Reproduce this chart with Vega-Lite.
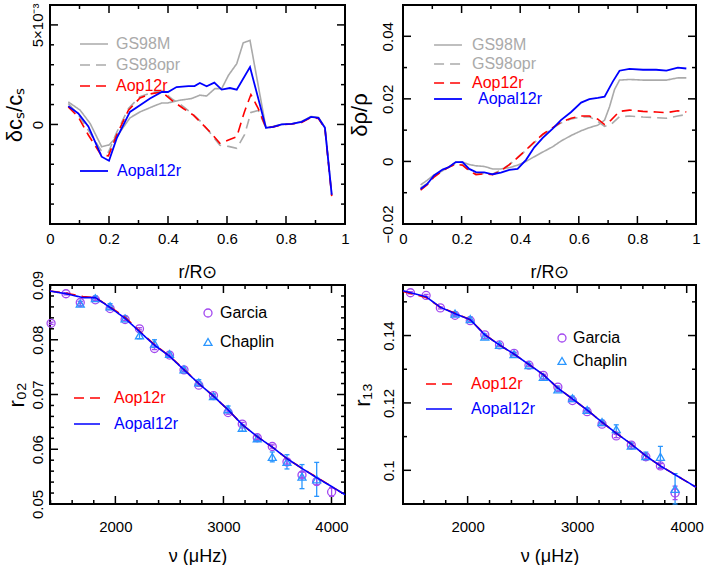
{
  "$schema": "https://vega.github.io/schema/vega-lite/v6.json",
  "padding": {"left": 2, "top": 2, "right": 2, "bottom": 2},
  "config": {
    "font": "Liberation Sans",
    "view": {"stroke": "#000000", "strokeWidth": 2},
    "axis": {"domain": false, "grid": false, "ticks": false, "tickSize": 0, "labelColor": "#000000", "labelFontSize": 15, "labelFlush": false, "labelOverlap": false, "titleColor": "#000000", "titleFontSize": 18, "titleFontWeight": "normal"},
    "tick": {"opacity": 1, "color": "#000000", "thickness": 1.5},
    "legend": {"padding": 0, "labelFontSize": 16}
  },
  "datasets": {
    "t1": [
      {"ax": "x", "k": "maj", "v": 0.2}, {"ax": "x", "k": "maj", "v": 0.4}, {"ax": "x", "k": "maj", "v": 0.6}, {"ax": "x", "k": "maj", "v": 0.8},
      {"ax": "x", "k": "min", "v": 0.1}, {"ax": "x", "k": "min", "v": 0.3}, {"ax": "x", "k": "min", "v": 0.5}, {"ax": "x", "k": "min", "v": 0.7}, {"ax": "x", "k": "min", "v": 0.9},
      {"ax": "y", "k": "maj", "v": 0}, {"ax": "y", "k": "maj", "v": 0.005},
      {"ax": "y", "k": "min", "v": -0.004}, {"ax": "y", "k": "min", "v": -0.003}, {"ax": "y", "k": "min", "v": -0.002}, {"ax": "y", "k": "min", "v": -0.001}, {"ax": "y", "k": "min", "v": 0.001}, {"ax": "y", "k": "min", "v": 0.002}, {"ax": "y", "k": "min", "v": 0.003}, {"ax": "y", "k": "min", "v": 0.004}
    ],
    "t2": [
      {"ax": "x", "k": "maj", "v": 0.2}, {"ax": "x", "k": "maj", "v": 0.4}, {"ax": "x", "k": "maj", "v": 0.6}, {"ax": "x", "k": "maj", "v": 0.8},
      {"ax": "x", "k": "min", "v": 0.1}, {"ax": "x", "k": "min", "v": 0.3}, {"ax": "x", "k": "min", "v": 0.5}, {"ax": "x", "k": "min", "v": 0.7}, {"ax": "x", "k": "min", "v": 0.9},
      {"ax": "y", "k": "maj", "v": 0}, {"ax": "y", "k": "maj", "v": 0.02}, {"ax": "y", "k": "maj", "v": 0.04},
      {"ax": "y", "k": "min", "v": -0.01}, {"ax": "y", "k": "min", "v": 0.01}, {"ax": "y", "k": "min", "v": 0.03}
    ],
    "t3": [
      {"ax": "x", "k": "maj", "v": 2000}, {"ax": "x", "k": "maj", "v": 3000}, {"ax": "x", "k": "maj", "v": 4000},
      {"ax": "x", "k": "min", "v": 1400}, {"ax": "x", "k": "min", "v": 1600}, {"ax": "x", "k": "min", "v": 1800}, {"ax": "x", "k": "min", "v": 2200}, {"ax": "x", "k": "min", "v": 2400}, {"ax": "x", "k": "min", "v": 2600}, {"ax": "x", "k": "min", "v": 2800}, {"ax": "x", "k": "min", "v": 3200}, {"ax": "x", "k": "min", "v": 3400}, {"ax": "x", "k": "min", "v": 3600}, {"ax": "x", "k": "min", "v": 3800},
      {"ax": "y", "k": "maj", "v": 0.06}, {"ax": "y", "k": "maj", "v": 0.07}, {"ax": "y", "k": "maj", "v": 0.08},
      {"ax": "y", "k": "min", "v": 0.052}, {"ax": "y", "k": "min", "v": 0.054}, {"ax": "y", "k": "min", "v": 0.056}, {"ax": "y", "k": "min", "v": 0.058}, {"ax": "y", "k": "min", "v": 0.062}, {"ax": "y", "k": "min", "v": 0.064}, {"ax": "y", "k": "min", "v": 0.066}, {"ax": "y", "k": "min", "v": 0.068}, {"ax": "y", "k": "min", "v": 0.072}, {"ax": "y", "k": "min", "v": 0.074}, {"ax": "y", "k": "min", "v": 0.076}, {"ax": "y", "k": "min", "v": 0.078}, {"ax": "y", "k": "min", "v": 0.082}, {"ax": "y", "k": "min", "v": 0.084}, {"ax": "y", "k": "min", "v": 0.086}, {"ax": "y", "k": "min", "v": 0.088}
    ],
    "t4": [
      {"ax": "x", "k": "maj", "v": 2000}, {"ax": "x", "k": "maj", "v": 3000}, {"ax": "x", "k": "maj", "v": 4000},
      {"ax": "x", "k": "min", "v": 1600}, {"ax": "x", "k": "min", "v": 1800}, {"ax": "x", "k": "min", "v": 2200}, {"ax": "x", "k": "min", "v": 2400}, {"ax": "x", "k": "min", "v": 2600}, {"ax": "x", "k": "min", "v": 2800}, {"ax": "x", "k": "min", "v": 3200}, {"ax": "x", "k": "min", "v": 3400}, {"ax": "x", "k": "min", "v": 3600}, {"ax": "x", "k": "min", "v": 3800},
      {"ax": "y", "k": "maj", "v": 0.1}, {"ax": "y", "k": "maj", "v": 0.12}, {"ax": "y", "k": "maj", "v": 0.14},
      {"ax": "y", "k": "min", "v": 0.11}, {"ax": "y", "k": "min", "v": 0.13}, {"ax": "y", "k": "min", "v": 0.15}
    ],
    "p1": [
      {"s": "GS98M", "r": 0.062, "v": 0.00113}, {"s": "GS98M", "r": 0.102, "v": 0.00072}, {"s": "GS98M", "r": 0.136, "v": 0.00005}, {"s": "GS98M", "r": 0.175, "v": -0.00112}, {"s": "GS98M", "r": 0.2, "v": -0.00103}, {"s": "GS98M", "r": 0.226, "v": -0.00062}, {"s": "GS98M", "r": 0.271, "v": 0.00033}, {"s": "GS98M", "r": 0.305, "v": 0.00063}, {"s": "GS98M", "r": 0.345, "v": 0.00088}, {"s": "GS98M", "r": 0.379, "v": 0.00108}, {"s": "GS98M", "r": 0.4, "v": 0.00108}, {"s": "GS98M", "r": 0.441, "v": 0.00122}, {"s": "GS98M", "r": 0.48, "v": 0.0013}, {"s": "GS98M", "r": 0.508, "v": 0.00147}, {"s": "GS98M", "r": 0.531, "v": 0.00143}, {"s": "GS98M", "r": 0.559, "v": 0.0018}, {"s": "GS98M", "r": 0.582, "v": 0.0018}, {"s": "GS98M", "r": 0.605, "v": 0.00247}, {"s": "GS98M", "r": 0.633, "v": 0.00305}, {"s": "GS98M", "r": 0.655, "v": 0.0041}, {"s": "GS98M", "r": 0.678, "v": 0.00422}, {"s": "GS98M", "r": 0.732, "v": -0.00017}, {"s": "GS98M", "r": 0.757, "v": -0.0001}, {"s": "GS98M", "r": 0.785, "v": 0}, {"s": "GS98M", "r": 0.819, "v": 0.00003}, {"s": "GS98M", "r": 0.853, "v": 0.00015}, {"s": "GS98M", "r": 0.885, "v": 0.0004}, {"s": "GS98M", "r": 0.91, "v": 0.00035}, {"s": "GS98M", "r": 0.932, "v": -0.00015}, {"s": "GS98M", "r": 0.955, "v": -0.0035},
      {"s": "GS98opr", "r": 0.062, "v": 0.00105}, {"s": "GS98opr", "r": 0.096, "v": 0.0005}, {"s": "GS98opr", "r": 0.13, "v": -0.0003}, {"s": "GS98opr", "r": 0.173, "v": -0.0013}, {"s": "GS98opr", "r": 0.198, "v": -0.0014}, {"s": "GS98opr", "r": 0.226, "v": -0.0004}, {"s": "GS98opr", "r": 0.266, "v": 0.0008}, {"s": "GS98opr", "r": 0.305, "v": 0.0014}, {"s": "GS98opr", "r": 0.345, "v": 0.0016}, {"s": "GS98opr", "r": 0.379, "v": 0.0017}, {"s": "GS98opr", "r": 0.412, "v": 0.0013}, {"s": "GS98opr", "r": 0.452, "v": 0.0009}, {"s": "GS98opr", "r": 0.486, "v": 0.0005}, {"s": "GS98opr", "r": 0.514, "v": 0.0001}, {"s": "GS98opr", "r": 0.542, "v": -0.0004}, {"s": "GS98opr", "r": 0.576, "v": -0.00105}, {"s": "GS98opr", "r": 0.605, "v": -0.0011}, {"s": "GS98opr", "r": 0.633, "v": -0.0012}, {"s": "GS98opr", "r": 0.66, "v": -0.0005}, {"s": "GS98opr", "r": 0.681, "v": 0.0006}, {"s": "GS98opr", "r": 0.706, "v": 0.0007}, {"s": "GS98opr", "r": 0.732, "v": -0.00017}, {"s": "GS98opr", "r": 0.757, "v": -0.0001}, {"s": "GS98opr", "r": 0.785, "v": 0}, {"s": "GS98opr", "r": 0.819, "v": 0.00002}, {"s": "GS98opr", "r": 0.853, "v": 0.00012}, {"s": "GS98opr", "r": 0.885, "v": 0.00038}, {"s": "GS98opr", "r": 0.91, "v": 0.00032}, {"s": "GS98opr", "r": 0.932, "v": -0.00018}, {"s": "GS98opr", "r": 0.955, "v": -0.00355},
      {"s": "Aop12r", "r": 0.062, "v": 0.00088}, {"s": "Aop12r", "r": 0.096, "v": 0.00038}, {"s": "Aop12r", "r": 0.13, "v": -0.00053}, {"s": "Aop12r", "r": 0.173, "v": -0.00153}, {"s": "Aop12r", "r": 0.198, "v": -0.00158}, {"s": "Aop12r", "r": 0.226, "v": -0.00053}, {"s": "Aop12r", "r": 0.266, "v": 0.00072}, {"s": "Aop12r", "r": 0.305, "v": 0.00133}, {"s": "Aop12r", "r": 0.345, "v": 0.00155}, {"s": "Aop12r", "r": 0.379, "v": 0.00163}, {"s": "Aop12r", "r": 0.412, "v": 0.00122}, {"s": "Aop12r", "r": 0.452, "v": 0.0008}, {"s": "Aop12r", "r": 0.486, "v": 0.00047}, {"s": "Aop12r", "r": 0.514, "v": 0.00005}, {"s": "Aop12r", "r": 0.542, "v": -0.00037}, {"s": "Aop12r", "r": 0.576, "v": -0.00095}, {"s": "Aop12r", "r": 0.605, "v": -0.00078}, {"s": "Aop12r", "r": 0.633, "v": -0.00062}, {"s": "Aop12r", "r": 0.659, "v": 0.00063}, {"s": "Aop12r", "r": 0.681, "v": 0.0015}, {"s": "Aop12r", "r": 0.706, "v": 0.0008}, {"s": "Aop12r", "r": 0.732, "v": -0.00017}, {"s": "Aop12r", "r": 0.757, "v": -0.00012}, {"s": "Aop12r", "r": 0.785, "v": -0.00002}, {"s": "Aop12r", "r": 0.819, "v": 0.00002}, {"s": "Aop12r", "r": 0.853, "v": 0.0001}, {"s": "Aop12r", "r": 0.885, "v": 0.00035}, {"s": "Aop12r", "r": 0.91, "v": 0.0003}, {"s": "Aop12r", "r": 0.932, "v": -0.0002}, {"s": "Aop12r", "r": 0.955, "v": -0.0036},
      {"s": "Aopal12r", "r": 0.062, "v": 0.00092}, {"s": "Aopal12r", "r": 0.096, "v": 0.00055}, {"s": "Aopal12r", "r": 0.13, "v": -0.0001}, {"s": "Aopal12r", "r": 0.175, "v": -0.00162}, {"s": "Aopal12r", "r": 0.2, "v": -0.00182}, {"s": "Aopal12r", "r": 0.226, "v": -0.0007}, {"s": "Aopal12r", "r": 0.271, "v": 0.00063}, {"s": "Aopal12r", "r": 0.305, "v": 0.00097}, {"s": "Aopal12r", "r": 0.339, "v": 0.0013}, {"s": "Aopal12r", "r": 0.379, "v": 0.00163}, {"s": "Aopal12r", "r": 0.4, "v": 0.00163}, {"s": "Aopal12r", "r": 0.429, "v": 0.00188}, {"s": "Aopal12r", "r": 0.469, "v": 0.00193}, {"s": "Aopal12r", "r": 0.49, "v": 0.00193}, {"s": "Aopal12r", "r": 0.508, "v": 0.00208}, {"s": "Aopal12r", "r": 0.531, "v": 0.00192}, {"s": "Aopal12r", "r": 0.557, "v": 0.0021}, {"s": "Aopal12r", "r": 0.582, "v": 0.00175}, {"s": "Aopal12r", "r": 0.61, "v": 0.00183}, {"s": "Aopal12r", "r": 0.633, "v": 0.00175}, {"s": "Aopal12r", "r": 0.678, "v": 0.00288}, {"s": "Aopal12r", "r": 0.732, "v": -0.00017}, {"s": "Aopal12r", "r": 0.757, "v": -0.00012}, {"s": "Aopal12r", "r": 0.785, "v": 0}, {"s": "Aopal12r", "r": 0.819, "v": 0.00003}, {"s": "Aopal12r", "r": 0.853, "v": 0.00013}, {"s": "Aopal12r", "r": 0.885, "v": 0.00038}, {"s": "Aopal12r", "r": 0.91, "v": 0.00033}, {"s": "Aopal12r", "r": 0.932, "v": -0.00017}, {"s": "Aopal12r", "r": 0.955, "v": -0.00353}
    ],
    "p2": [
      {"s": "GS98M", "r": 0.06, "v": -0.0075}, {"s": "GS98M", "r": 0.083, "v": -0.006}, {"s": "GS98M", "r": 0.106, "v": -0.0043}, {"s": "GS98M", "r": 0.135, "v": -0.003}, {"s": "GS98M", "r": 0.157, "v": -0.0018}, {"s": "GS98M", "r": 0.18, "v": -0.0003}, {"s": "GS98M", "r": 0.203, "v": -0.0002}, {"s": "GS98M", "r": 0.226, "v": -0.001}, {"s": "GS98M", "r": 0.249, "v": -0.0014}, {"s": "GS98M", "r": 0.277, "v": -0.0016}, {"s": "GS98M", "r": 0.306, "v": -0.0024}, {"s": "GS98M", "r": 0.334, "v": -0.0024}, {"s": "GS98M", "r": 0.363, "v": -0.002}, {"s": "GS98M", "r": 0.391, "v": -0.0012}, {"s": "GS98M", "r": 0.42, "v": 0}, {"s": "GS98M", "r": 0.448, "v": 0.0015}, {"s": "GS98M", "r": 0.477, "v": 0.003}, {"s": "GS98M", "r": 0.511, "v": 0.0047}, {"s": "GS98M", "r": 0.539, "v": 0.0065}, {"s": "GS98M", "r": 0.574, "v": 0.0083}, {"s": "GS98M", "r": 0.608, "v": 0.0098}, {"s": "GS98M", "r": 0.636, "v": 0.0108}, {"s": "GS98M", "r": 0.665, "v": 0.0116}, {"s": "GS98M", "r": 0.688, "v": 0.0132}, {"s": "GS98M", "r": 0.705, "v": 0.0175}, {"s": "GS98M", "r": 0.722, "v": 0.023}, {"s": "GS98M", "r": 0.739, "v": 0.026}, {"s": "GS98M", "r": 0.773, "v": 0.0262}, {"s": "GS98M", "r": 0.819, "v": 0.026}, {"s": "GS98M", "r": 0.864, "v": 0.026}, {"s": "GS98M", "r": 0.899, "v": 0.026}, {"s": "GS98M", "r": 0.938, "v": 0.0267}, {"s": "GS98M", "r": 0.967, "v": 0.0267},
      {"s": "GS98opr", "r": 0.06, "v": -0.0085}, {"s": "GS98opr", "r": 0.083, "v": -0.007}, {"s": "GS98opr", "r": 0.106, "v": -0.0048}, {"s": "GS98opr", "r": 0.135, "v": -0.003}, {"s": "GS98opr", "r": 0.157, "v": -0.0018}, {"s": "GS98opr", "r": 0.18, "v": -0.0008}, {"s": "GS98opr", "r": 0.203, "v": -0.001}, {"s": "GS98opr", "r": 0.226, "v": -0.0028}, {"s": "GS98opr", "r": 0.249, "v": -0.004}, {"s": "GS98opr", "r": 0.277, "v": -0.0038}, {"s": "GS98opr", "r": 0.306, "v": -0.004}, {"s": "GS98opr", "r": 0.334, "v": -0.0028}, {"s": "GS98opr", "r": 0.363, "v": -0.001}, {"s": "GS98opr", "r": 0.391, "v": 0.0012}, {"s": "GS98opr", "r": 0.42, "v": 0.0036}, {"s": "GS98opr", "r": 0.448, "v": 0.006}, {"s": "GS98opr", "r": 0.477, "v": 0.0085}, {"s": "GS98opr", "r": 0.511, "v": 0.0106}, {"s": "GS98opr", "r": 0.539, "v": 0.0123}, {"s": "GS98opr", "r": 0.574, "v": 0.0136}, {"s": "GS98opr", "r": 0.608, "v": 0.0142}, {"s": "GS98opr", "r": 0.636, "v": 0.0143}, {"s": "GS98opr", "r": 0.665, "v": 0.0128}, {"s": "GS98opr", "r": 0.688, "v": 0.0112}, {"s": "GS98opr", "r": 0.71, "v": 0.0118}, {"s": "GS98opr", "r": 0.739, "v": 0.0143}, {"s": "GS98opr", "r": 0.773, "v": 0.0145}, {"s": "GS98opr", "r": 0.819, "v": 0.0142}, {"s": "GS98opr", "r": 0.864, "v": 0.014}, {"s": "GS98opr", "r": 0.899, "v": 0.0138}, {"s": "GS98opr", "r": 0.938, "v": 0.0145}, {"s": "GS98opr", "r": 0.967, "v": 0.015},
      {"s": "Aop12r", "r": 0.06, "v": -0.0092}, {"s": "Aop12r", "r": 0.083, "v": -0.0074}, {"s": "Aop12r", "r": 0.106, "v": -0.005}, {"s": "Aop12r", "r": 0.135, "v": -0.003}, {"s": "Aop12r", "r": 0.157, "v": -0.0018}, {"s": "Aop12r", "r": 0.18, "v": -0.0009}, {"s": "Aop12r", "r": 0.203, "v": -0.0012}, {"s": "Aop12r", "r": 0.226, "v": -0.003}, {"s": "Aop12r", "r": 0.249, "v": -0.0042}, {"s": "Aop12r", "r": 0.277, "v": -0.004}, {"s": "Aop12r", "r": 0.306, "v": -0.0042}, {"s": "Aop12r", "r": 0.334, "v": -0.003}, {"s": "Aop12r", "r": 0.363, "v": -0.001}, {"s": "Aop12r", "r": 0.391, "v": 0.0012}, {"s": "Aop12r", "r": 0.42, "v": 0.0037}, {"s": "Aop12r", "r": 0.448, "v": 0.0062}, {"s": "Aop12r", "r": 0.477, "v": 0.0087}, {"s": "Aop12r", "r": 0.511, "v": 0.0108}, {"s": "Aop12r", "r": 0.539, "v": 0.0125}, {"s": "Aop12r", "r": 0.574, "v": 0.0138}, {"s": "Aop12r", "r": 0.608, "v": 0.0145}, {"s": "Aop12r", "r": 0.636, "v": 0.0145}, {"s": "Aop12r", "r": 0.665, "v": 0.0135}, {"s": "Aop12r", "r": 0.688, "v": 0.0118}, {"s": "Aop12r", "r": 0.71, "v": 0.0132}, {"s": "Aop12r", "r": 0.739, "v": 0.016}, {"s": "Aop12r", "r": 0.773, "v": 0.0164}, {"s": "Aop12r", "r": 0.819, "v": 0.016}, {"s": "Aop12r", "r": 0.864, "v": 0.0158}, {"s": "Aop12r", "r": 0.899, "v": 0.0156}, {"s": "Aop12r", "r": 0.938, "v": 0.0162}, {"s": "Aop12r", "r": 0.967, "v": 0.0158},
      {"s": "Aopal12r", "r": 0.06, "v": -0.0088}, {"s": "Aopal12r", "r": 0.083, "v": -0.0072}, {"s": "Aopal12r", "r": 0.106, "v": -0.0045}, {"s": "Aopal12r", "r": 0.135, "v": -0.0026}, {"s": "Aopal12r", "r": 0.157, "v": -0.0018}, {"s": "Aopal12r", "r": 0.18, "v": -0.0002}, {"s": "Aopal12r", "r": 0.203, "v": -0.0002}, {"s": "Aopal12r", "r": 0.226, "v": -0.0024}, {"s": "Aopal12r", "r": 0.249, "v": -0.0034}, {"s": "Aopal12r", "r": 0.277, "v": -0.0035}, {"s": "Aopal12r", "r": 0.306, "v": -0.0041}, {"s": "Aopal12r", "r": 0.334, "v": -0.0036}, {"s": "Aopal12r", "r": 0.363, "v": -0.0027}, {"s": "Aopal12r", "r": 0.391, "v": -0.0024}, {"s": "Aopal12r", "r": 0.42, "v": 0.0005}, {"s": "Aopal12r", "r": 0.448, "v": 0.0045}, {"s": "Aopal12r", "r": 0.477, "v": 0.0075}, {"s": "Aopal12r", "r": 0.511, "v": 0.0105}, {"s": "Aopal12r", "r": 0.539, "v": 0.0132}, {"s": "Aopal12r", "r": 0.574, "v": 0.0158}, {"s": "Aopal12r", "r": 0.608, "v": 0.0188}, {"s": "Aopal12r", "r": 0.636, "v": 0.0199}, {"s": "Aopal12r", "r": 0.665, "v": 0.0203}, {"s": "Aopal12r", "r": 0.688, "v": 0.0207}, {"s": "Aopal12r", "r": 0.716, "v": 0.0255}, {"s": "Aopal12r", "r": 0.739, "v": 0.029}, {"s": "Aopal12r", "r": 0.773, "v": 0.0296}, {"s": "Aopal12r", "r": 0.819, "v": 0.0293}, {"s": "Aopal12r", "r": 0.864, "v": 0.0293}, {"s": "Aopal12r", "r": 0.899, "v": 0.029}, {"s": "Aopal12r", "r": 0.938, "v": 0.03}, {"s": "Aopal12r", "r": 0.967, "v": 0.0297}
    ],
    "r02obs": [
      {"src": "Garcia", "nu": 1405, "v": 0.083, "e": 0.0002}, {"src": "Garcia", "nu": 1543, "v": 0.0884, "e": 0.0002}, {"src": "Garcia", "nu": 1675, "v": 0.0868, "e": 0.0002}, {"src": "Garcia", "nu": 1815, "v": 0.0873, "e": 0.0002}, {"src": "Garcia", "nu": 1951, "v": 0.0857, "e": 0.0002}, {"src": "Garcia", "nu": 2090, "v": 0.0837, "e": 0.0002}, {"src": "Garcia", "nu": 2223, "v": 0.082, "e": 0.0002}, {"src": "Garcia", "nu": 2362, "v": 0.0784, "e": 0.0002}, {"src": "Garcia", "nu": 2501, "v": 0.0772, "e": 0.0002}, {"src": "Garcia", "nu": 2635, "v": 0.0745, "e": 0.0002}, {"src": "Garcia", "nu": 2772, "v": 0.0717, "e": 0.0002}, {"src": "Garcia", "nu": 2908, "v": 0.0698, "e": 0.0002}, {"src": "Garcia", "nu": 3043, "v": 0.0667, "e": 0.0003}, {"src": "Garcia", "nu": 3174, "v": 0.0646, "e": 0.0003}, {"src": "Garcia", "nu": 3313, "v": 0.0621, "e": 0.0003}, {"src": "Garcia", "nu": 3452, "v": 0.0605, "e": 0.0003}, {"src": "Garcia", "nu": 3588, "v": 0.0577, "e": 0.0004}, {"src": "Garcia", "nu": 3727, "v": 0.0553, "e": 0.0005}, {"src": "Garcia", "nu": 3863, "v": 0.0541, "e": 0.0006}, {"src": "Garcia", "nu": 4001, "v": 0.0522, "e": 0.0008},
      {"src": "Chaplin", "nu": 1675, "v": 0.0866, "e": 0.0004}, {"src": "Chaplin", "nu": 1815, "v": 0.0876, "e": 0.0004}, {"src": "Chaplin", "nu": 1951, "v": 0.0861, "e": 0.0005}, {"src": "Chaplin", "nu": 2090, "v": 0.0839, "e": 0.0004}, {"src": "Chaplin", "nu": 2223, "v": 0.0808, "e": 0.0006}, {"src": "Chaplin", "nu": 2362, "v": 0.0793, "e": 0.0007}, {"src": "Chaplin", "nu": 2501, "v": 0.0774, "e": 0.0004}, {"src": "Chaplin", "nu": 2635, "v": 0.0746, "e": 0.0004}, {"src": "Chaplin", "nu": 2772, "v": 0.0722, "e": 0.0005}, {"src": "Chaplin", "nu": 2908, "v": 0.0697, "e": 0.0004}, {"src": "Chaplin", "nu": 3043, "v": 0.0673, "e": 0.0006}, {"src": "Chaplin", "nu": 3174, "v": 0.0639, "e": 0.0006}, {"src": "Chaplin", "nu": 3313, "v": 0.062, "e": 0.0004}, {"src": "Chaplin", "nu": 3452, "v": 0.0586, "e": 0.0009}, {"src": "Chaplin", "nu": 3588, "v": 0.0577, "e": 0.0013}, {"src": "Chaplin", "nu": 3727, "v": 0.055, "e": 0.0022}, {"src": "Chaplin", "nu": 3863, "v": 0.0545, "e": 0.0031}
    ],
    "r02mod": [
      {"s": "Aop12r", "nu": 1395, "v": 0.0889}, {"s": "Aop12r", "nu": 1543, "v": 0.0885}, {"s": "Aop12r", "nu": 1700, "v": 0.0879}, {"s": "Aop12r", "nu": 1815, "v": 0.0877}, {"s": "Aop12r", "nu": 1951, "v": 0.086}, {"s": "Aop12r", "nu": 2090, "v": 0.0841}, {"s": "Aop12r", "nu": 2223, "v": 0.0816}, {"s": "Aop12r", "nu": 2362, "v": 0.0791}, {"s": "Aop12r", "nu": 2501, "v": 0.077}, {"s": "Aop12r", "nu": 2635, "v": 0.0746}, {"s": "Aop12r", "nu": 2772, "v": 0.072}, {"s": "Aop12r", "nu": 2908, "v": 0.0697}, {"s": "Aop12r", "nu": 3043, "v": 0.0672}, {"s": "Aop12r", "nu": 3174, "v": 0.0645}, {"s": "Aop12r", "nu": 3313, "v": 0.0623}, {"s": "Aop12r", "nu": 3452, "v": 0.0604}, {"s": "Aop12r", "nu": 3588, "v": 0.0583}, {"s": "Aop12r", "nu": 3727, "v": 0.0565}, {"s": "Aop12r", "nu": 3863, "v": 0.0549}, {"s": "Aop12r", "nu": 4001, "v": 0.0532}, {"s": "Aop12r", "nu": 4125, "v": 0.0517},
      {"s": "Aopal12r", "nu": 1395, "v": 0.0889}, {"s": "Aopal12r", "nu": 1543, "v": 0.0884}, {"s": "Aopal12r", "nu": 1700, "v": 0.0877}, {"s": "Aopal12r", "nu": 1815, "v": 0.0877}, {"s": "Aopal12r", "nu": 1951, "v": 0.0859}, {"s": "Aopal12r", "nu": 2090, "v": 0.0839}, {"s": "Aopal12r", "nu": 2223, "v": 0.0815}, {"s": "Aopal12r", "nu": 2362, "v": 0.079}, {"s": "Aopal12r", "nu": 2501, "v": 0.077}, {"s": "Aopal12r", "nu": 2635, "v": 0.0745}, {"s": "Aopal12r", "nu": 2772, "v": 0.072}, {"s": "Aopal12r", "nu": 2908, "v": 0.0697}, {"s": "Aopal12r", "nu": 3043, "v": 0.0672}, {"s": "Aopal12r", "nu": 3174, "v": 0.0645}, {"s": "Aopal12r", "nu": 3313, "v": 0.0623}, {"s": "Aopal12r", "nu": 3452, "v": 0.0604}, {"s": "Aopal12r", "nu": 3588, "v": 0.0583}, {"s": "Aopal12r", "nu": 3727, "v": 0.0565}, {"s": "Aopal12r", "nu": 3863, "v": 0.0548}, {"s": "Aopal12r", "nu": 4001, "v": 0.0532}, {"s": "Aopal12r", "nu": 4125, "v": 0.0517}
    ],
    "r13obs": [
      {"src": "Garcia", "nu": 1478, "v": 0.1527, "e": 0.0003}, {"src": "Garcia", "nu": 1621, "v": 0.1519, "e": 0.0003}, {"src": "Garcia", "nu": 1751, "v": 0.1482, "e": 0.0003}, {"src": "Garcia", "nu": 1885, "v": 0.146, "e": 0.0003}, {"src": "Garcia", "nu": 2024, "v": 0.1444, "e": 0.0003}, {"src": "Garcia", "nu": 2157, "v": 0.1402, "e": 0.0003}, {"src": "Garcia", "nu": 2291, "v": 0.1372, "e": 0.0003}, {"src": "Garcia", "nu": 2424, "v": 0.1347, "e": 0.0003}, {"src": "Garcia", "nu": 2560, "v": 0.1312, "e": 0.0003}, {"src": "Garcia", "nu": 2691, "v": 0.1282, "e": 0.0003}, {"src": "Garcia", "nu": 2824, "v": 0.1247, "e": 0.0003}, {"src": "Garcia", "nu": 2957, "v": 0.1207, "e": 0.0003}, {"src": "Garcia", "nu": 3091, "v": 0.1174, "e": 0.0004}, {"src": "Garcia", "nu": 3227, "v": 0.1137, "e": 0.0004}, {"src": "Garcia", "nu": 3357, "v": 0.1102, "e": 0.0005}, {"src": "Garcia", "nu": 3494, "v": 0.1075, "e": 0.0005}, {"src": "Garcia", "nu": 3627, "v": 0.104, "e": 0.0006}, {"src": "Garcia", "nu": 3760, "v": 0.1013, "e": 0.0007}, {"src": "Garcia", "nu": 3894, "v": 0.0933, "e": 0.002},
      {"src": "Chaplin", "nu": 1885, "v": 0.1465, "e": 0.0005}, {"src": "Chaplin", "nu": 2024, "v": 0.1449, "e": 0.0006}, {"src": "Chaplin", "nu": 2157, "v": 0.1397, "e": 0.0005}, {"src": "Chaplin", "nu": 2291, "v": 0.1372, "e": 0.0005}, {"src": "Chaplin", "nu": 2424, "v": 0.1345, "e": 0.0005}, {"src": "Chaplin", "nu": 2560, "v": 0.1312, "e": 0.0005}, {"src": "Chaplin", "nu": 2691, "v": 0.1277, "e": 0.0006}, {"src": "Chaplin", "nu": 2824, "v": 0.124, "e": 0.0006}, {"src": "Chaplin", "nu": 2957, "v": 0.1214, "e": 0.0006}, {"src": "Chaplin", "nu": 3091, "v": 0.1179, "e": 0.0006}, {"src": "Chaplin", "nu": 3227, "v": 0.1143, "e": 0.0006}, {"src": "Chaplin", "nu": 3357, "v": 0.1122, "e": 0.0013}, {"src": "Chaplin", "nu": 3494, "v": 0.1073, "e": 0.0008}, {"src": "Chaplin", "nu": 3627, "v": 0.1042, "e": 0.0012}, {"src": "Chaplin", "nu": 3760, "v": 0.104, "e": 0.0031}, {"src": "Chaplin", "nu": 3894, "v": 0.0945, "e": 0.0045}
    ],
    "r13mod": [
      {"s": "Aop12r", "nu": 1410, "v": 0.1531}, {"s": "Aop12r", "nu": 1478, "v": 0.1525}, {"s": "Aop12r", "nu": 1621, "v": 0.1513}, {"s": "Aop12r", "nu": 1751, "v": 0.1484}, {"s": "Aop12r", "nu": 1885, "v": 0.1466}, {"s": "Aop12r", "nu": 2024, "v": 0.1447}, {"s": "Aop12r", "nu": 2157, "v": 0.1403}, {"s": "Aop12r", "nu": 2291, "v": 0.1372}, {"s": "Aop12r", "nu": 2424, "v": 0.1345}, {"s": "Aop12r", "nu": 2560, "v": 0.1314}, {"s": "Aop12r", "nu": 2691, "v": 0.1284}, {"s": "Aop12r", "nu": 2824, "v": 0.1244}, {"s": "Aop12r", "nu": 2957, "v": 0.1212}, {"s": "Aop12r", "nu": 3091, "v": 0.1179}, {"s": "Aop12r", "nu": 3227, "v": 0.1143}, {"s": "Aop12r", "nu": 3357, "v": 0.111}, {"s": "Aop12r", "nu": 3494, "v": 0.1078}, {"s": "Aop12r", "nu": 3627, "v": 0.1043}, {"s": "Aop12r", "nu": 3760, "v": 0.1013}, {"s": "Aop12r", "nu": 3894, "v": 0.0987}, {"s": "Aop12r", "nu": 4085, "v": 0.095},
      {"s": "Aopal12r", "nu": 1410, "v": 0.1533}, {"s": "Aopal12r", "nu": 1478, "v": 0.1527}, {"s": "Aopal12r", "nu": 1621, "v": 0.1515}, {"s": "Aopal12r", "nu": 1751, "v": 0.1484}, {"s": "Aopal12r", "nu": 1885, "v": 0.1465}, {"s": "Aopal12r", "nu": 2024, "v": 0.1447}, {"s": "Aopal12r", "nu": 2157, "v": 0.1402}, {"s": "Aopal12r", "nu": 2291, "v": 0.1372}, {"s": "Aopal12r", "nu": 2424, "v": 0.1345}, {"s": "Aopal12r", "nu": 2560, "v": 0.1314}, {"s": "Aopal12r", "nu": 2691, "v": 0.1284}, {"s": "Aopal12r", "nu": 2824, "v": 0.1244}, {"s": "Aopal12r", "nu": 2957, "v": 0.1212}, {"s": "Aopal12r", "nu": 3091, "v": 0.1179}, {"s": "Aopal12r", "nu": 3227, "v": 0.1143}, {"s": "Aopal12r", "nu": 3357, "v": 0.111}, {"s": "Aopal12r", "nu": 3494, "v": 0.1078}, {"s": "Aopal12r", "nu": 3627, "v": 0.1043}, {"s": "Aopal12r", "nu": 3760, "v": 0.1013}, {"s": "Aopal12r", "nu": 3894, "v": 0.0987}, {"s": "Aopal12r", "nu": 4085, "v": 0.095}
    ]
  },
  "columns": 2,
  "bounds": "flush",
  "spacing": {"row": 61, "column": 58},
  "resolve": {"scale": {"color": "independent", "strokeDash": "independent", "shape": "independent"}},
  "concat": [
    {
      "width": 295, "height": 219,
      "layer": [
        {"data": {"name": "t1"}, "transform": [{"filter": "datum.ax === 'x'"}],
          "mark": {"type": "tick", "orient": "vertical", "clip": true},
          "encoding": {
            "x": {"field": "v", "type": "quantitative", "scale": {"domain": [0, 1], "nice": false, "zero": false}, "axis": null},
            "y": {"datum": -0.005, "type": "quantitative", "scale": {"domain": [-0.005, 0.006], "nice": false, "zero": false}, "axis": null},
            "size": {"field": "k", "type": "nominal", "scale": {"domain": ["maj", "min"], "range": [16, 8]}, "legend": null}}},
        {"data": {"name": "t1"}, "transform": [{"filter": "datum.ax === 'x'"}],
          "mark": {"type": "tick", "orient": "vertical", "clip": true},
          "encoding": {
            "x": {"field": "v", "type": "quantitative", "scale": {"domain": [0, 1], "nice": false, "zero": false}, "axis": null},
            "y": {"datum": 0.006, "type": "quantitative", "scale": {"domain": [-0.005, 0.006], "nice": false, "zero": false}, "axis": null},
            "size": {"field": "k", "type": "nominal", "scale": {"domain": ["maj", "min"], "range": [16, 8]}, "legend": null}}},
        {"data": {"name": "t1"}, "transform": [{"filter": "datum.ax === 'y'"}],
          "mark": {"type": "tick", "orient": "horizontal", "clip": true},
          "encoding": {
            "y": {"field": "v", "type": "quantitative", "scale": {"domain": [-0.005, 0.006], "nice": false, "zero": false}, "axis": null},
            "x": {"datum": 0, "type": "quantitative", "scale": {"domain": [0, 1], "nice": false, "zero": false}, "axis": null},
            "size": {"field": "k", "type": "nominal", "scale": {"domain": ["maj", "min"], "range": [16, 8]}, "legend": null}}},
        {"data": {"name": "t1"}, "transform": [{"filter": "datum.ax === 'y'"}],
          "mark": {"type": "tick", "orient": "horizontal", "clip": true},
          "encoding": {
            "y": {"field": "v", "type": "quantitative", "scale": {"domain": [-0.005, 0.006], "nice": false, "zero": false}, "axis": null},
            "x": {"datum": 1, "type": "quantitative", "scale": {"domain": [0, 1], "nice": false, "zero": false}, "axis": null},
            "size": {"field": "k", "type": "nominal", "scale": {"domain": ["maj", "min"], "range": [16, 8]}, "legend": null}}},
        {
          "data": {"name": "p1"},
          "transform": [{"filter": "datum.s !== 'Aopal12r'"}],
          "mark": {"type": "line", "strokeWidth": 1.6},
          "encoding": {
            "x": {"field": "r", "type": "quantitative", "scale": {"domain": [0, 1], "nice": false, "zero": false},
              "axis": {"orient": "bottom", "values": [0, 0.2, 0.4, 0.6, 0.8, 1], "format": "~g", "labelPadding": 7, "title": "r/R⊙", "titlePadding": 17}},
            "y": {"field": "v", "type": "quantitative", "scale": {"domain": [-0.005, 0.006], "nice": false, "zero": false},
              "axis": {"orient": "left", "values": [0, 0.005], "labelExpr": "datum.value == 0 ? '0' : '5×10⁻³'", "labelPadding": 5, "labelAngle": -90, "labelAlign": "center", "labelBaseline": "bottom", "title": "δcₛ/cₛ", "titleFontSize": 22, "titlePadding": 4}},
            "color": {"field": "s", "type": "nominal", "scale": {"domain": ["GS98M", "GS98opr", "Aop12r"], "range": ["#aaaaaa", "#aaaaaa", "#ff0000"]},
              "legend": {"orient": "none", "legendX": 33, "legendY": 28, "title": null, "symbolType": "M-1.4,0H1.4", "symbolSize": 400, "symbolStrokeWidth": 1.6, "labelOffset": 11, "rowPadding": 2, "encode": {"labels": {"update": {"fill": {"signal": "datum.value === 'Aop12r' ? '#ff0000' : '#aaaaaa'"}}}}}},
            "strokeDash": {"field": "s", "type": "nominal", "scale": {"domain": ["GS98M", "GS98opr", "Aop12r"], "range": [[1, 0], [10, 6], [10, 6]]},
              "legend": {"orient": "none", "legendX": 33, "legendY": 28, "title": null, "symbolType": "M-1.4,0H1.4", "symbolSize": 400, "symbolStrokeWidth": 1.6, "labelOffset": 11, "rowPadding": 2, "encode": {"labels": {"update": {"fill": {"signal": "datum.value === 'Aop12r' ? '#ff0000' : '#aaaaaa'"}}}}}}
          }
        },
        {
          "data": {"name": "p1"},
          "transform": [{"filter": "datum.s === 'Aopal12r'"}],
          "mark": {"type": "line", "strokeWidth": 1.8},
          "encoding": {
            "x": {"field": "r", "type": "quantitative", "scale": {"domain": [0, 1], "nice": false, "zero": false}, "axis": null},
            "y": {"field": "v", "type": "quantitative", "scale": {"domain": [-0.005, 0.006], "nice": false, "zero": false}, "axis": null},
            "color": {"field": "s", "type": "nominal", "scale": {"domain": ["Aopal12r"], "range": ["#0000ff"]},
              "legend": {"orient": "none", "legendX": 33, "legendY": 155, "title": null, "symbolType": "M-1.4,0H1.4", "symbolSize": 400, "symbolStrokeWidth": 1.8, "labelOffset": 12, "labelColor": "#0000ff"}}
          }
        }
      ],
      "resolve": {"scale": {"color": "independent", "strokeDash": "independent", "size": "independent"}, "axis": {"x": "independent", "y": "independent"}}
    },
    {
      "width": 293, "height": 219,
      "layer": [
        {"data": {"name": "t2"}, "transform": [{"filter": "datum.ax === 'x'"}],
          "mark": {"type": "tick", "orient": "vertical", "clip": true},
          "encoding": {
            "x": {"field": "v", "type": "quantitative", "scale": {"domain": [0, 1], "nice": false, "zero": false}, "axis": null},
            "y": {"datum": -0.02, "type": "quantitative", "scale": {"domain": [-0.02, 0.05], "nice": false, "zero": false}, "axis": null},
            "size": {"field": "k", "type": "nominal", "scale": {"domain": ["maj", "min"], "range": [16, 8]}, "legend": null}}},
        {"data": {"name": "t2"}, "transform": [{"filter": "datum.ax === 'x'"}],
          "mark": {"type": "tick", "orient": "vertical", "clip": true},
          "encoding": {
            "x": {"field": "v", "type": "quantitative", "scale": {"domain": [0, 1], "nice": false, "zero": false}, "axis": null},
            "y": {"datum": 0.05, "type": "quantitative", "scale": {"domain": [-0.02, 0.05], "nice": false, "zero": false}, "axis": null},
            "size": {"field": "k", "type": "nominal", "scale": {"domain": ["maj", "min"], "range": [16, 8]}, "legend": null}}},
        {"data": {"name": "t2"}, "transform": [{"filter": "datum.ax === 'y'"}],
          "mark": {"type": "tick", "orient": "horizontal", "clip": true},
          "encoding": {
            "y": {"field": "v", "type": "quantitative", "scale": {"domain": [-0.02, 0.05], "nice": false, "zero": false}, "axis": null},
            "x": {"datum": 0, "type": "quantitative", "scale": {"domain": [0, 1], "nice": false, "zero": false}, "axis": null},
            "size": {"field": "k", "type": "nominal", "scale": {"domain": ["maj", "min"], "range": [16, 8]}, "legend": null}}},
        {"data": {"name": "t2"}, "transform": [{"filter": "datum.ax === 'y'"}],
          "mark": {"type": "tick", "orient": "horizontal", "clip": true},
          "encoding": {
            "y": {"field": "v", "type": "quantitative", "scale": {"domain": [-0.02, 0.05], "nice": false, "zero": false}, "axis": null},
            "x": {"datum": 1, "type": "quantitative", "scale": {"domain": [0, 1], "nice": false, "zero": false}, "axis": null},
            "size": {"field": "k", "type": "nominal", "scale": {"domain": ["maj", "min"], "range": [16, 8]}, "legend": null}}},
        {
          "data": {"name": "p2"},
          "transform": [{"filter": "datum.s !== 'Aopal12r'"}],
          "mark": {"type": "line", "strokeWidth": 1.6},
          "encoding": {
            "x": {"field": "r", "type": "quantitative", "scale": {"domain": [0, 1], "nice": false, "zero": false},
              "axis": {"orient": "bottom", "values": [0, 0.2, 0.4, 0.6, 0.8, 1], "format": "~g", "labelPadding": 7, "title": "r/R⊙", "titlePadding": 17}},
            "y": {"field": "v", "type": "quantitative", "scale": {"domain": [-0.02, 0.05], "nice": false, "zero": false},
              "axis": {"orient": "left", "values": [-0.02, 0, 0.02, 0.04], "format": "~g", "labelPadding": 8, "labelAngle": -90, "labelAlign": "center", "labelBaseline": "bottom", "title": "δρ/ρ", "titleFontSize": 22, "titlePadding": 9}},
            "color": {"field": "s", "type": "nominal", "scale": {"domain": ["GS98M", "GS98opr", "Aop12r"], "range": ["#aaaaaa", "#aaaaaa", "#ff0000"]},
              "legend": {"orient": "none", "legendX": 35, "legendY": 30, "title": null, "symbolType": "M-1.55,0H1.55", "symbolSize": 324, "symbolStrokeWidth": 1.6, "labelOffset": 14, "rowPadding": 1, "encode": {"labels": {"update": {"fill": {"signal": "datum.value === 'Aop12r' ? '#ff0000' : '#aaaaaa'"}}}}}},
            "strokeDash": {"field": "s", "type": "nominal", "scale": {"domain": ["GS98M", "GS98opr", "Aop12r"], "range": [[1, 0], [10, 6], [10, 6]]},
              "legend": {"orient": "none", "legendX": 35, "legendY": 30, "title": null, "symbolType": "M-1.55,0H1.55", "symbolSize": 324, "symbolStrokeWidth": 1.6, "labelOffset": 14, "rowPadding": 1, "encode": {"labels": {"update": {"fill": {"signal": "datum.value === 'Aop12r' ? '#ff0000' : '#aaaaaa'"}}}}}}
          }
        },
        {
          "data": {"name": "p2"},
          "transform": [{"filter": "datum.s === 'Aopal12r'"}],
          "mark": {"type": "line", "strokeWidth": 1.8},
          "encoding": {
            "x": {"field": "r", "type": "quantitative", "scale": {"domain": [0, 1], "nice": false, "zero": false}, "axis": null},
            "y": {"field": "v", "type": "quantitative", "scale": {"domain": [-0.02, 0.05], "nice": false, "zero": false}, "axis": null},
            "color": {"field": "s", "type": "nominal", "scale": {"domain": ["Aopal12r"], "range": ["#0000ff"]},
              "legend": {"orient": "none", "legendX": 35, "legendY": 84, "title": null, "symbolType": "M-1.55,0H1.55", "symbolSize": 324, "symbolStrokeWidth": 1.8, "labelOffset": 20, "labelColor": "#0000ff"}}
          }
        }
      ],
      "resolve": {"scale": {"color": "independent", "strokeDash": "independent", "size": "independent"}, "axis": {"x": "independent", "y": "independent"}}
    },
    {
      "width": 295, "height": 219,
      "layer": [
        {"data": {"name": "t3"}, "transform": [{"filter": "datum.ax === 'x'"}],
          "mark": {"type": "tick", "orient": "vertical", "clip": true},
          "encoding": {
            "x": {"field": "v", "type": "quantitative", "scale": {"domain": [1395, 4125], "nice": false, "zero": false}, "axis": null},
            "y": {"datum": 0.05, "type": "quantitative", "scale": {"domain": [0.05, 0.09], "nice": false, "zero": false}, "axis": null},
            "size": {"field": "k", "type": "nominal", "scale": {"domain": ["maj", "min"], "range": [16, 8]}, "legend": null}}},
        {"data": {"name": "t3"}, "transform": [{"filter": "datum.ax === 'x'"}],
          "mark": {"type": "tick", "orient": "vertical", "clip": true},
          "encoding": {
            "x": {"field": "v", "type": "quantitative", "scale": {"domain": [1395, 4125], "nice": false, "zero": false}, "axis": null},
            "y": {"datum": 0.09, "type": "quantitative", "scale": {"domain": [0.05, 0.09], "nice": false, "zero": false}, "axis": null},
            "size": {"field": "k", "type": "nominal", "scale": {"domain": ["maj", "min"], "range": [16, 8]}, "legend": null}}},
        {"data": {"name": "t3"}, "transform": [{"filter": "datum.ax === 'y'"}],
          "mark": {"type": "tick", "orient": "horizontal", "clip": true},
          "encoding": {
            "y": {"field": "v", "type": "quantitative", "scale": {"domain": [0.05, 0.09], "nice": false, "zero": false}, "axis": null},
            "x": {"datum": 1395, "type": "quantitative", "scale": {"domain": [1395, 4125], "nice": false, "zero": false}, "axis": null},
            "size": {"field": "k", "type": "nominal", "scale": {"domain": ["maj", "min"], "range": [16, 8]}, "legend": null}}},
        {"data": {"name": "t3"}, "transform": [{"filter": "datum.ax === 'y'"}],
          "mark": {"type": "tick", "orient": "horizontal", "clip": true},
          "encoding": {
            "y": {"field": "v", "type": "quantitative", "scale": {"domain": [0.05, 0.09], "nice": false, "zero": false}, "axis": null},
            "x": {"datum": 4125, "type": "quantitative", "scale": {"domain": [1395, 4125], "nice": false, "zero": false}, "axis": null},
            "size": {"field": "k", "type": "nominal", "scale": {"domain": ["maj", "min"], "range": [16, 8]}, "legend": null}}},
        {
          "data": {"name": "r02obs"},
          "transform": [{"filter": "datum.src === 'Chaplin'"}],
          "mark": {"type": "errorbar", "color": "#2a96ff", "thickness": 1.3, "ticks": {"size": 5, "thickness": 1.3}},
          "encoding": {
            "x": {"field": "nu", "type": "quantitative", "scale": {"domain": [1395, 4125], "nice": false, "zero": false}, "axis": null},
            "y": {"field": "v", "type": "quantitative", "scale": {"domain": [0.05, 0.09], "nice": false, "zero": false}, "axis": null},
            "yError": {"field": "e"}
          }
        },
        {
          "data": {"name": "r02obs"},
          "transform": [{"filter": "datum.src === 'Garcia'"}],
          "mark": {"type": "errorbar", "color": "#a348f0", "thickness": 1.3, "ticks": {"size": 5, "thickness": 1.3}},
          "encoding": {
            "x": {"field": "nu", "type": "quantitative", "scale": {"domain": [1395, 4125], "nice": false, "zero": false}, "axis": null},
            "y": {"field": "v", "type": "quantitative", "scale": {"domain": [0.05, 0.09], "nice": false, "zero": false}, "axis": null},
            "yError": {"field": "e"}
          }
        },
        {
          "data": {"name": "r02obs"},
          "mark": {"type": "point", "filled": false, "size": 64, "strokeWidth": 1.3, "opacity": 1},
          "encoding": {
            "x": {"field": "nu", "type": "quantitative", "scale": {"domain": [1395, 4125], "nice": false, "zero": false}, "axis": null},
            "y": {"field": "v", "type": "quantitative", "scale": {"domain": [0.05, 0.09], "nice": false, "zero": false}, "axis": null},
            "color": {"field": "src", "type": "nominal", "scale": {"domain": ["Garcia", "Chaplin"], "range": ["#a348f0", "#2a96ff"]},
              "legend": {"orient": "none", "legendX": 150, "legendY": 20, "title": null, "symbolSize": 64, "symbolStrokeWidth": 1.3, "labelOffset": 4, "rowPadding": 13, "encode": {"labels": {"update": {"fill": {"signal": "datum.value === 'Garcia' ? '#a348f0' : '#2a96ff'"}}}}}},
            "shape": {"field": "src", "type": "nominal", "scale": {"domain": ["Garcia", "Chaplin"], "range": ["circle", "triangle-up"]},
              "legend": {"orient": "none", "legendX": 150, "legendY": 20, "title": null, "symbolSize": 64, "symbolStrokeWidth": 1.3, "labelOffset": 4, "rowPadding": 13, "encode": {"labels": {"update": {"fill": {"signal": "datum.value === 'Garcia' ? '#a348f0' : '#2a96ff'"}}}}}}
          }
        },
        {
          "data": {"name": "r02mod"},
          "mark": {"type": "line", "strokeWidth": 1.6},
          "encoding": {
            "x": {"field": "nu", "type": "quantitative", "scale": {"domain": [1395, 4125], "nice": false, "zero": false},
              "axis": {"orient": "bottom", "values": [2000, 3000, 4000], "format": "d", "labelPadding": 15, "title": "ν  (μHz)", "titlePadding": 13}},
            "y": {"field": "v", "type": "quantitative", "scale": {"domain": [0.05, 0.09], "nice": false, "zero": false},
              "axis": {"orient": "left", "values": [0.05, 0.06, 0.07, 0.08, 0.09], "format": "~g", "labelPadding": 5, "labelAngle": -90, "labelAlign": "center", "labelBaseline": "bottom", "title": "r₀₂", "titleFontSize": 22, "titlePadding": 2}},
            "color": {"field": "s", "type": "nominal", "scale": {"domain": ["Aop12r", "Aopal12r"], "range": ["#ff0000", "#0000ff"]},
              "legend": {"orient": "none", "legendX": 26, "legendY": 102, "title": null, "symbolType": "M-1.3,0H1.3", "symbolSize": 400, "symbolStrokeWidth": 1.6, "labelOffset": 16, "rowPadding": 7, "encode": {"labels": {"update": {"fill": {"signal": "datum.value === 'Aop12r' ? '#ff0000' : '#0000ff'"}}}}}},
            "strokeDash": {"field": "s", "type": "nominal", "scale": {"domain": ["Aop12r", "Aopal12r"], "range": [[10, 6], [1, 0]]},
              "legend": {"orient": "none", "legendX": 26, "legendY": 102, "title": null, "symbolType": "M-1.3,0H1.3", "symbolSize": 400, "symbolStrokeWidth": 1.6, "labelOffset": 16, "rowPadding": 7, "encode": {"labels": {"update": {"fill": {"signal": "datum.value === 'Aop12r' ? '#ff0000' : '#0000ff'"}}}}}}
          }
        }
      ],
      "resolve": {"scale": {"color": "independent", "strokeDash": "independent", "shape": "independent", "size": "independent"}, "axis": {"x": "independent", "y": "independent"}}
    },
    {
      "width": 293, "height": 219,
      "layer": [
        {"data": {"name": "t4"}, "transform": [{"filter": "datum.ax === 'x'"}],
          "mark": {"type": "tick", "orient": "vertical", "clip": true},
          "encoding": {
            "x": {"field": "v", "type": "quantitative", "scale": {"domain": [1410, 4085], "nice": false, "zero": false}, "axis": null},
            "y": {"datum": 0.09, "type": "quantitative", "scale": {"domain": [0.09, 0.155], "nice": false, "zero": false}, "axis": null},
            "size": {"field": "k", "type": "nominal", "scale": {"domain": ["maj", "min"], "range": [16, 8]}, "legend": null}}},
        {"data": {"name": "t4"}, "transform": [{"filter": "datum.ax === 'x'"}],
          "mark": {"type": "tick", "orient": "vertical", "clip": true},
          "encoding": {
            "x": {"field": "v", "type": "quantitative", "scale": {"domain": [1410, 4085], "nice": false, "zero": false}, "axis": null},
            "y": {"datum": 0.155, "type": "quantitative", "scale": {"domain": [0.09, 0.155], "nice": false, "zero": false}, "axis": null},
            "size": {"field": "k", "type": "nominal", "scale": {"domain": ["maj", "min"], "range": [16, 8]}, "legend": null}}},
        {"data": {"name": "t4"}, "transform": [{"filter": "datum.ax === 'y'"}],
          "mark": {"type": "tick", "orient": "horizontal", "clip": true},
          "encoding": {
            "y": {"field": "v", "type": "quantitative", "scale": {"domain": [0.09, 0.155], "nice": false, "zero": false}, "axis": null},
            "x": {"datum": 1410, "type": "quantitative", "scale": {"domain": [1410, 4085], "nice": false, "zero": false}, "axis": null},
            "size": {"field": "k", "type": "nominal", "scale": {"domain": ["maj", "min"], "range": [16, 8]}, "legend": null}}},
        {"data": {"name": "t4"}, "transform": [{"filter": "datum.ax === 'y'"}],
          "mark": {"type": "tick", "orient": "horizontal", "clip": true},
          "encoding": {
            "y": {"field": "v", "type": "quantitative", "scale": {"domain": [0.09, 0.155], "nice": false, "zero": false}, "axis": null},
            "x": {"datum": 4085, "type": "quantitative", "scale": {"domain": [1410, 4085], "nice": false, "zero": false}, "axis": null},
            "size": {"field": "k", "type": "nominal", "scale": {"domain": ["maj", "min"], "range": [16, 8]}, "legend": null}}},
        {
          "data": {"name": "r13obs"},
          "transform": [{"filter": "datum.src === 'Chaplin'"}],
          "mark": {"type": "errorbar", "color": "#2a96ff", "thickness": 1.3, "ticks": {"size": 5, "thickness": 1.3}},
          "encoding": {
            "x": {"field": "nu", "type": "quantitative", "scale": {"domain": [1410, 4085], "nice": false, "zero": false}, "axis": null},
            "y": {"field": "v", "type": "quantitative", "scale": {"domain": [0.09, 0.155], "nice": false, "zero": false}, "axis": null},
            "yError": {"field": "e"}
          }
        },
        {
          "data": {"name": "r13obs"},
          "transform": [{"filter": "datum.src === 'Garcia'"}],
          "mark": {"type": "errorbar", "color": "#a348f0", "thickness": 1.3, "ticks": {"size": 5, "thickness": 1.3}},
          "encoding": {
            "x": {"field": "nu", "type": "quantitative", "scale": {"domain": [1410, 4085], "nice": false, "zero": false}, "axis": null},
            "y": {"field": "v", "type": "quantitative", "scale": {"domain": [0.09, 0.155], "nice": false, "zero": false}, "axis": null},
            "yError": {"field": "e"}
          }
        },
        {
          "data": {"name": "r13obs"},
          "mark": {"type": "point", "filled": false, "size": 64, "strokeWidth": 1.3, "opacity": 1},
          "encoding": {
            "x": {"field": "nu", "type": "quantitative", "scale": {"domain": [1410, 4085], "nice": false, "zero": false}, "axis": null},
            "y": {"field": "v", "type": "quantitative", "scale": {"domain": [0.09, 0.155], "nice": false, "zero": false}, "axis": null},
            "color": {"field": "src", "type": "nominal", "scale": {"domain": ["Garcia", "Chaplin"], "range": ["#a348f0", "#2a96ff"]},
              "legend": {"orient": "none", "legendX": 151, "legendY": 45, "title": null, "symbolSize": 64, "symbolStrokeWidth": 1.3, "labelOffset": 3, "rowPadding": 7, "encode": {"labels": {"update": {"fill": {"signal": "datum.value === 'Garcia' ? '#a348f0' : '#2a96ff'"}}}}}},
            "shape": {"field": "src", "type": "nominal", "scale": {"domain": ["Garcia", "Chaplin"], "range": ["circle", "triangle-up"]},
              "legend": {"orient": "none", "legendX": 151, "legendY": 45, "title": null, "symbolSize": 64, "symbolStrokeWidth": 1.3, "labelOffset": 3, "rowPadding": 7, "encode": {"labels": {"update": {"fill": {"signal": "datum.value === 'Garcia' ? '#a348f0' : '#2a96ff'"}}}}}}
          }
        },
        {
          "data": {"name": "r13mod"},
          "mark": {"type": "line", "strokeWidth": 1.6},
          "encoding": {
            "x": {"field": "nu", "type": "quantitative", "scale": {"domain": [1410, 4085], "nice": false, "zero": false},
              "axis": {"orient": "bottom", "values": [2000, 3000, 4000], "format": "d", "labelPadding": 15, "title": "ν  (μHz)", "titlePadding": 13}},
            "y": {"field": "v", "type": "quantitative", "scale": {"domain": [0.09, 0.155], "nice": false, "zero": false},
              "axis": {"orient": "left", "values": [0.1, 0.12, 0.14], "format": "~g", "labelPadding": 7, "labelAngle": -90, "labelAlign": "center", "labelBaseline": "bottom", "title": "r₁₃", "titleFontSize": 22, "titlePadding": 7}},
            "color": {"field": "s", "type": "nominal", "scale": {"domain": ["Aop12r", "Aopal12r"], "range": ["#ff0000", "#0000ff"]},
              "legend": {"orient": "none", "legendX": 25, "legendY": 88, "title": null, "symbolType": "M-1.3,0H1.3", "symbolSize": 400, "symbolStrokeWidth": 1.6, "labelOffset": 21, "rowPadding": 6, "encode": {"labels": {"update": {"fill": {"signal": "datum.value === 'Aop12r' ? '#ff0000' : '#0000ff'"}}}}}},
            "strokeDash": {"field": "s", "type": "nominal", "scale": {"domain": ["Aop12r", "Aopal12r"], "range": [[10, 6], [1, 0]]},
              "legend": {"orient": "none", "legendX": 25, "legendY": 88, "title": null, "symbolType": "M-1.3,0H1.3", "symbolSize": 400, "symbolStrokeWidth": 1.6, "labelOffset": 21, "rowPadding": 6, "encode": {"labels": {"update": {"fill": {"signal": "datum.value === 'Aop12r' ? '#ff0000' : '#0000ff'"}}}}}}
          }
        }
      ],
      "resolve": {"scale": {"color": "independent", "strokeDash": "independent", "shape": "independent", "size": "independent"}, "axis": {"x": "independent", "y": "independent"}}
    }
  ]
}
